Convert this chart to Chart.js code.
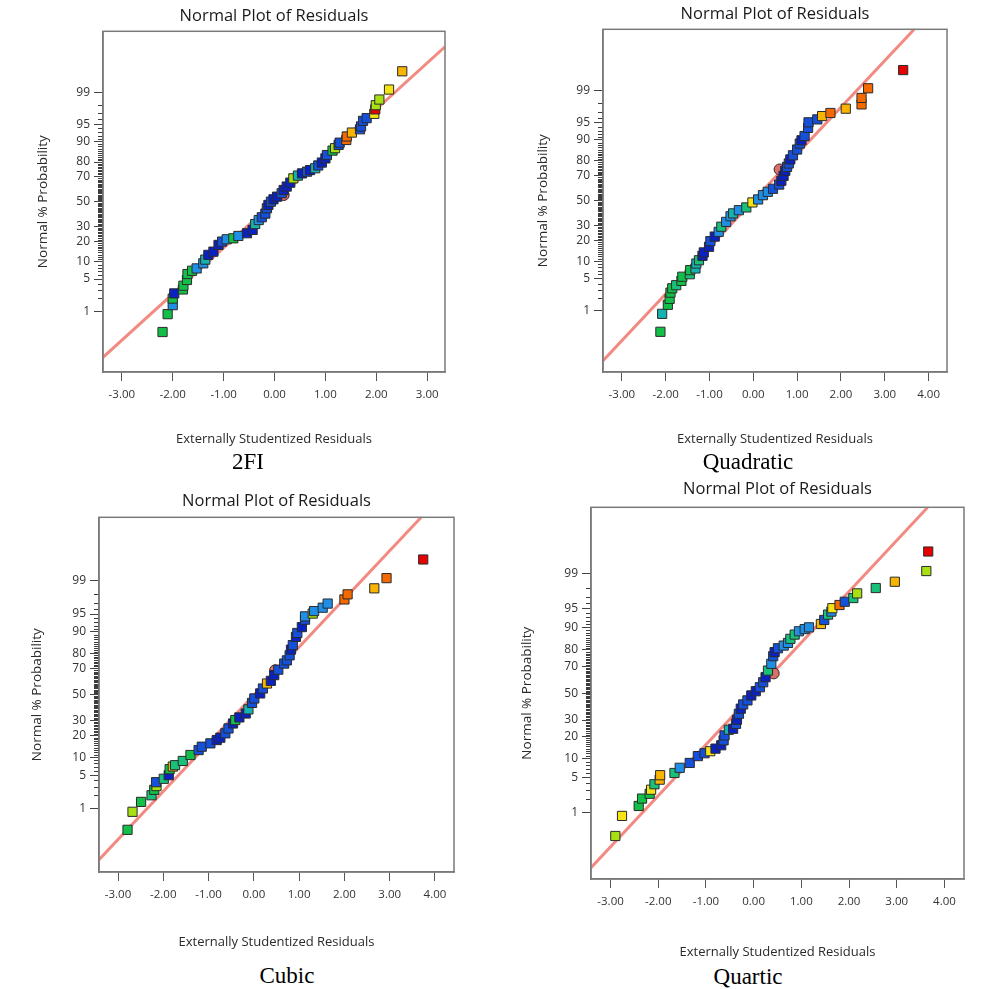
<!DOCTYPE html>
<html>
<head>
<meta charset="utf-8">
<script src="https://cdn.jsdelivr.net/npm/chart.js@4.4.1/dist/chart.umd.min.js"></script>
<style>
  body { margin: 0; background: #fff; width: 999px; height: 989px; position: relative; overflow: hidden; }
  .pane { position: absolute; }
  .cap { position: absolute; font-family: "Liberation Serif", "Times New Roman", serif; font-size: 23px; color: #000;
         transform: translate(-50%, -50%); white-space: nowrap; }
</style>
</head>
<body>
<div class="pane" style="left:0;top:0;width:500px;height:452px"><canvas id="c2fi"></canvas></div>
<div class="pane" style="left:500px;top:0;width:499px;height:452px"><canvas id="cquad"></canvas></div>
<div class="pane" style="left:0;top:470px;width:500px;height:490px"><canvas id="ccub"></canvas></div>
<div class="pane" style="left:500px;top:470px;width:499px;height:490px"><canvas id="cquar"></canvas></div>
<div class="cap" style="left:248px;top:462px">2FI</div>
<div class="cap" style="left:748px;top:462px">Quadratic</div>
<div class="cap" style="left:287px;top:976px">Cubic</div>
<div class="cap" style="left:748px;top:977px">Quartic</div>
<script>
// probability axis labels (%)
const probTicks = [1, 5, 10, 20, 30, 50, 70, 80, 90, 95, 99];
const xTicksNarrow = [-3, -2, -1, 0, 1, 2, 3];
const xTicksWide = [-3, -2, -1, 0, 1, 2, 3, 4];

// 2FI
const resid2FI = [-2.20, -2.10, -2.00, -2.00, -1.97, -1.80, -1.79, -1.72, -1.71, -1.62, -1.53, -1.40, -1.36, -1.30, -1.20, -1.10,
  -1.03, -0.94, -0.81, -0.71, -0.54, -0.43, -0.38, -0.31, -0.25, -0.18, -0.15, -0.12, -0.07, -0.02, 0.05, 0.14, 0.18, 0.24,
  0.31, 0.37, 0.46, 0.54, 0.64, 0.70, 0.80, 0.86, 0.93, 1.00, 1.03, 1.14, 1.19, 1.26, 1.28, 1.41, 1.42, 1.52, 1.68, 1.70,
  1.74, 1.81, 1.96, 1.98, 1.99, 2.06, 2.25, 2.51];
const prob2FI = [0.28, 0.84, 1.39, 1.97, 2.56, 3.1, 3.7, 4.8, 6.2, 7.1, 7.8, 9.5, 10.9, 12.9, 14.4, 17.9, 19.8, 21.2, 21.8,
  23.3, 25.1, 27.4, 31.7, 34.8, 37.0, 40.0, 44.4, 47.2, 50.0, 52.0, 54.2, 57.1, 59.8, 62.6, 65.7, 69.0, 71.0, 72.6, 73.8,
  74.9, 76.1, 77.9, 79.7, 82.1, 83.9, 86.1, 87.2, 88.6, 89.5, 90.5, 91.7, 92.9, 93.8, 94.5, 95.7, 96.2, 96.9, 97.5, 97.98,
  98.5, 99.14, 99.72];
const level2FI = [5, 5, 2, 5, 0, 5, 5, 5, 5, 5, 2, 2, 3, 0, 0, 0, 1, 2, 5, 2, 0, 0, 3, 2, 1, 1, 1, 0, 1, 0, 0, 1, 0, 0, 0,
  6, 3, 0, 1, 0, 3, 1, 0, 0, 1, 5, 6, 1, 1, 9, 9, 8, 1, 1, 1, 1, 7, 10, 6, 6, 7, 8];
const mark2FI = [0.18, 55.6];
const line2FI = [[-3.37, 0.047], [3.35, 99.95]];

// Quadratic
const residQuad = [-2.12, -2.08, -1.95, -1.91, -1.89, -1.85, -1.76, -1.64, -1.62, -1.45, -1.44, -1.32, -1.30, -1.24, -1.16,
  -1.13, -1.01, -0.98, -0.88, -0.79, -0.73, -0.62, -0.52, -0.46, -0.33, -0.16, -0.02, 0.11, 0.22, 0.33, 0.45, 0.59, 0.64,
  0.69, 0.73, 0.77, 0.81, 0.845, 0.905, 1.00, 1.06, 1.10, 1.17, 1.25, 1.26, 1.46, 1.57, 1.76, 2.11, 2.47, 2.47, 2.62, 3.42];
const probQuad = [0.28, 0.84, 1.39, 1.9, 2.6, 3.2, 3.7, 4.5, 5.4, 6.0, 7.1, 7.6, 9.2, 10.4, 12.2, 13.7, 16.5, 19.6, 22.4,
  25.5, 29.1, 32.7, 37.1, 39.4, 42.0, 44.3, 48.5, 51.0, 54.6, 57.4, 59.9, 63.3, 66.3, 70.0, 73.6, 76.2, 78.4, 80.8, 83.1,
  86.0, 88.6, 89.9, 91.4, 93.8, 95.1, 95.7, 96.3, 96.8, 97.4, 97.9, 98.5, 99.12, 99.71];
const levelQuad = [5, 3, 5, 5, 5, 5, 4, 5, 5, 4, 5, 3, 3, 4, 0, 0, 0, 1, 0, 2, 4, 2, 2, 3, 2, 4, 7, 2, 2, 2, 1, 1, 0, 0, 0,
  1, 1, 0, 1, 1, 1, 0, 1, 1, 1, 1, 8, 9, 8, 9, 9, 9, 10];
const markQuad = [0.60, 74.5];
const lineQuad = [[-3.43, 0.036], [3.667, 99.985]];

// Cubic
const residCub = [-2.79, -2.68, -2.49, -2.26, -2.20, -2.15, -2.16, -1.99, -1.88, -1.86, -1.79, -1.74, -1.57, -1.40, -1.22,
  -1.15, -0.96, -0.82, -0.74, -0.63, -0.56, -0.46, -0.41, -0.32, -0.18, -0.12, -0.04, 0.01, 0.14, 0.20, 0.29, 0.375, 0.45,
  0.54, 0.67, 0.73, 0.79, 0.82, 0.86, 0.93, 0.96, 1.06, 1.13, 1.13, 1.30, 1.33, 1.52, 1.63, 2.00, 2.07, 2.66, 2.93, 3.74];
const probCub = [0.29, 0.84, 1.43, 2.0, 2.6, 3.1, 3.7, 4.3, 5.0, 6.4, 7.1, 7.5, 8.8, 10.9, 12.9, 14.4, 16.0, 17.7, 19.0,
  21.5, 24.5, 27.8, 30.2, 32.1, 35.0, 38.2, 43.3, 46.9, 51.0, 55.0, 59.0, 61.1, 65.5, 69.5, 73.7, 75.8, 78.9, 82.1, 84.4,
  88.1, 89.6, 91.6, 93.7, 94.5, 95.1, 95.6, 96.2, 96.85, 97.4, 97.97, 98.5, 99.13, 99.71];
const levelCub = [5, 6, 5, 4, 5, 6, 1, 4, 0, 5, 8, 4, 4, 5, 1, 1, 1, 0, 0, 1, 1, 0, 5, 0, 0, 3, 1, 1, 0, 1, 8, 0, 0, 1, 1,
  1, 1, 0, 1, 0, 1, 0, 1, 2, 6, 2, 2, 2, 9, 9, 8, 9, 10];
const markCub = [0.47, 69.0];
const lineCub = [[-3.42, 0.0376], [3.69, 99.985]];

// Quartic
const residQuar = [-2.90, -2.76, -2.41, -2.34, -2.18, -2.15, -2.08, -1.97, -1.96, -1.66, -1.55, -1.34, -1.17, -1.03, -0.91,
  -0.80, -0.68, -0.63, -0.61, -0.52, -0.43, -0.37, -0.35, -0.31, -0.27, -0.22, -0.13, -0.05, 0.045, 0.13, 0.20, 0.25, 0.30,
  0.37, 0.41, 0.44, 0.51, 0.63, 0.72, 0.77, 0.86, 0.95, 1.07, 1.16, 1.41, 1.48, 1.56, 1.63, 1.65, 1.80, 1.91, 2.09, 2.17,
  2.56, 2.96, 3.62, 3.66];
const probQuar = [0.27, 0.84, 1.4, 2.0, 2.5, 3.0, 3.8, 4.6, 5.5, 6.0, 7.3, 8.7, 11.0, 12.1, 12.9, 14.0, 15.5, 17.9, 20.5,
  23.8, 24.4, 27.5, 30.2, 34.4, 38.1, 41.3, 44.4, 48.2, 51.5, 54.6, 58.4, 62.2, 67.0, 71.6, 76.4, 78.8, 80.9, 82.3, 83.6,
  85.5, 87.3, 88.6, 89.4, 90.0, 91.1, 92.3, 93.7, 94.4, 95.1, 95.7, 96.25, 96.8, 97.4, 97.97, 98.5, 99.13, 99.71];
const levelQuar = [6, 7, 5, 5, 5, 7, 4, 8, 8, 4, 2, 1, 1, 1, 7, 0, 0, 1, 1, 3, 0, 1, 0, 1, 0, 1, 1, 0, 0, 1, 1, 0, 4, 2, 1,
  0, 1, 2, 2, 4, 4, 2, 2, 2, 8, 1, 4, 2, 7, 9, 1, 4, 6, 4, 8, 6, 10];
const markQuar = [0.42, 65.0];
const lineQuar = [[-3.41, 0.0337], [3.645, 99.985]];

// colour scale used for the point colouring
const palette = ['#0c22c0', '#1450da', '#1f8fe6', '#16b2b0', '#18c07a', '#12c048', '#a8e012', '#f4e414', '#f8b400',
  '#f46a00', '#e60000'];

// inverse normal CDF (Acklam)
function probit(p) {
  const a = [-3.969683028665376e+01, 2.209460984245205e+02, -2.759285104469687e+02, 1.383577518672690e+02, -3.066479806614716e+01, 2.506628277459239e+00];
  const b = [-5.447609879822406e+01, 1.615858368580409e+02, -1.556989798598866e+02, 6.680131188771972e+01, -1.328068155288572e+01];
  const c = [-7.784894002430293e-03, -3.223964580411365e-01, -2.400758277161838e+00, -2.549732539343734e+00, 4.374664141464968e+00, 2.938163982698783e+00];
  const d = [7.784695709041462e-03, 3.224671290700398e-01, 2.445134137142996e+00, 3.754408661907416e+00];
  const lo = 0.02425;
  let q, r;
  if (p < lo) {
    q = Math.sqrt(-2 * Math.log(p));
    return (((((c[0]*q+c[1])*q+c[2])*q+c[3])*q+c[4])*q+c[5]) / ((((d[0]*q+d[1])*q+d[2])*q+d[3])*q+1);
  }
  if (p > 1 - lo) {
    q = Math.sqrt(-2 * Math.log(1 - p));
    return -(((((c[0]*q+c[1])*q+c[2])*q+c[3])*q+c[4])*q+c[5]) / ((((d[0]*q+d[1])*q+d[2])*q+d[3])*q+1);
  }
  q = p - 0.5; r = q * q;
  return (((((a[0]*r+a[1])*r+a[2])*r+a[3])*r+a[4])*r+a[5])*q / (((((b[0]*r+b[1])*r+b[2])*r+b[3])*r+b[4])*r+1);
}

const sans = '"Open Sans", "Noto Sans", sans-serif';

// box outline + the small unlabelled ticks at every whole percent
const framePlugin = {
  id: 'frame',
  afterDraw(chart) {
    const { ctx, chartArea: a, scales: { y } } = chart;
    ctx.save();
    ctx.lineWidth = 1;
    ctx.strokeStyle = '#3c3c3c';
    ctx.beginPath();
    for (let p = 1; p < 100; p++) {
      if (probTicks.includes(p)) continue;
      const py = Math.round(y.getPixelForValue(probit(p / 100))) + 0.5;
      ctx.moveTo(a.left - 5, py);
      ctx.lineTo(a.left, py);
    }
    ctx.stroke();
    ctx.strokeStyle = '#7a7a7a';
    ctx.lineWidth = 1.5;
    ctx.strokeRect(a.left, a.top, a.right - a.left, a.bottom - a.top);
    ctx.restore();
  }
};

function makeChart(id, g, resid, prob, level, mark, line, xTicks) {
  const pts = resid.map((x, i) => ({ x: x, y: probit(prob[i] / 100) }));
  new Chart(document.getElementById(id), {
    type: 'scatter',
    data: {
      datasets: [
        {
          data: pts,
          pointStyle: 'rect',
          pointRadius: 6.5,
          backgroundColor: level.map(l => palette[l]),
          borderColor: '#2b2b2b',
          borderWidth: 1,
          order: 0
        },
        {
          data: [{ x: mark[0], y: probit(mark[1] / 100) }],
          pointStyle: 'circle',
          pointRadius: 5.5,
          backgroundColor: '#d9706a',
          borderColor: '#3a2020',
          borderWidth: 1,
          order: 1
        },
        {
          data: line.map(p => ({ x: p[0], y: probit(p[1] / 100) })),
          showLine: true,
          pointRadius: 0,
          borderColor: '#f28a82',
          borderWidth: 3,
          order: 2
        }
      ]
    },
    options: {
      animation: false,
      responsive: true,
      maintainAspectRatio: false,
      layout: { padding: { left: 0, right: g.padRight, top: 0, bottom: 0 } },
      plugins: {
        legend: { display: false },
        tooltip: { enabled: false },
        title: {
          display: true,
          text: 'Normal Plot of Residuals',
          fullSize: false,
          color: '#1a1a1a',
          font: { family: sans, size: 16.5, weight: 'normal' },
          padding: { top: g.titleTop, bottom: g.titleBottom }
        }
      },
      scales: {
        x: {
          type: 'linear',
          min: g.xMin,
          max: g.xMax,
          afterBuildTicks: s => { s.ticks = xTicks.map(v => ({ value: v })); },
          afterFit: s => { s.height = g.xHeight; },
          ticks: {
            color: '#333',
            font: { family: sans, size: 11.5 },
            padding: 7,
            maxRotation: 0,
            autoSkip: false,
            callback: v => v.toFixed(2)
          },
          grid: { drawOnChartArea: false, drawTicks: true, tickLength: 9, color: '#555' },
          border: { color: '#7a7a7a', width: 1.5 },
          title: {
            display: true,
            text: 'Externally Studentized Residuals',
            color: '#2a2a2a',
            font: { family: sans, size: 13 },
            padding: { top: 0, bottom: g.xTitleBottom }
          }
        },
        y: {
          type: 'linear',
          min: -3.62,
          max: 3.62,
          afterBuildTicks: s => { s.ticks = probTicks.map(p => ({ value: probit(p / 100) })); },
          afterFit: s => { s.width = g.yWidth; },
          ticks: {
            color: '#333',
            font: { family: sans, size: 12 },
            padding: 4,
            autoSkip: false,
            callback: (v, i) => probTicks[i]
          },
          grid: { drawOnChartArea: false, drawTicks: true, tickLength: 9, color: '#444' },
          border: { color: '#7a7a7a', width: 1.5 },
          title: {
            display: true,
            text: 'Normal % Probability',
            color: '#2a2a2a',
            font: { family: sans, size: 13.5 },
            padding: { top: g.yTitleLeft, bottom: 0 }
          }
        }
      }
    },
    plugins: [framePlugin]
  });
}

makeChart('c2fi', { padRight: 55, titleTop: 6.1, titleBottom: 5.4, xMin: -3.37, xMax: 3.35, xHeight: 80, xTitleBottom: 5.2,
  yWidth: 103, yTitleLeft: 34.9 }, resid2FI, prob2FI, level2FI, mark2FI, line2FI, xTicksNarrow);
makeChart('cquad', { padRight: 52, titleTop: 4.1, titleBottom: 5.4, xMin: -3.43, xMax: 4.42, xHeight: 80, xTitleBottom: 5.2,
  yWidth: 103, yTitleLeft: 34.9 }, residQuad, probQuad, levelQuad, markQuad, lineQuad, xTicksWide);
makeChart('ccub', { padRight: 46, titleTop: 21.1, titleBottom: 6.4, xMin: -3.42, xMax: 4.42, xHeight: 88, xTitleBottom: 10.2,
  yWidth: 99, yTitleLeft: 28.9 }, residCub, probCub, levelCub, markCub, lineCub, xTicksWide);
makeChart('cquar', { padRight: 35, titleTop: 9.1, titleBottom: 8.4, xMin: -3.41, xMax: 4.41, xHeight: 81, xTitleBottom: 0.2,
  yWidth: 91, yTitleLeft: 18.9 }, residQuar, probQuar, levelQuar, markQuar, lineQuar, xTicksWide);
</script>
</body>
</html>
